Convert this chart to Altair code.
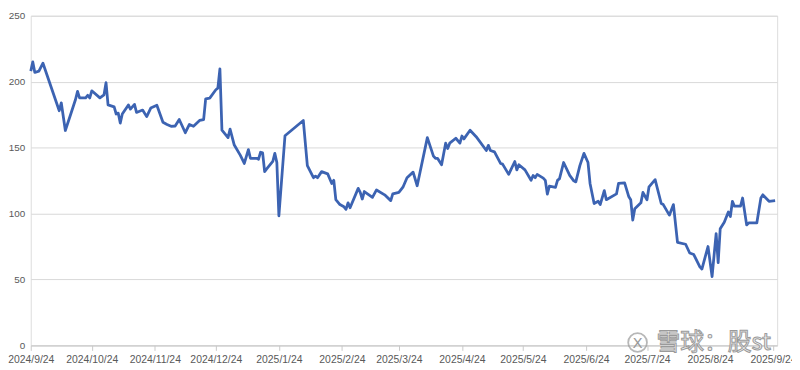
import altair as alt
import pandas as pd

dates = [
    "2024-09-24", "2024-09-25", "2024-09-26", "2024-09-28", "2024-09-30", "2024-10-08", "2024-10-09",
    "2024-10-11", "2024-10-14", "2024-10-16", "2024-10-17", "2024-10-18", "2024-10-21", "2024-10-22",
    "2024-10-23", "2024-10-24", "2024-10-28", "2024-10-30", "2024-10-31", "2024-11-01", "2024-11-04",
    "2024-11-05", "2024-11-06", "2024-11-07", "2024-11-08", "2024-11-11", "2024-11-12", "2024-11-14",
    "2024-11-15", "2024-11-18", "2024-11-20", "2024-11-22", "2024-11-25", "2024-11-28", "2024-11-30",
    "2024-12-02", "2024-12-04", "2024-12-06", "2024-12-09", "2024-12-11", "2024-12-13", "2024-12-16",
    "2024-12-18", "2024-12-19", "2024-12-21", "2024-12-24", "2024-12-25", "2024-12-26", "2024-12-27",
    "2024-12-30", "2024-12-31", "2025-01-02", "2025-01-05", "2025-01-07", "2025-01-09", "2025-01-10",
    "2025-01-13", "2025-01-14", "2025-01-15", "2025-01-16", "2025-01-17", "2025-01-18", "2025-01-21",
    "2025-01-22", "2025-01-23", "2025-01-24", "2025-01-27", "2025-02-05", "2025-02-07", "2025-02-10",
    "2025-02-11", "2025-02-12", "2025-02-14", "2025-02-17", "2025-02-19", "2025-02-20", "2025-02-21",
    "2025-02-23", "2025-02-25", "2025-02-26", "2025-02-27", "2025-02-28", "2025-03-04", "2025-03-05",
    "2025-03-06", "2025-03-07", "2025-03-11", "2025-03-13", "2025-03-17", "2025-03-20", "2025-03-21",
    "2025-03-24", "2025-03-26", "2025-03-28", "2025-03-31", "2025-04-02", "2025-04-07", "2025-04-10",
    "2025-04-11", "2025-04-12", "2025-04-14", "2025-04-16", "2025-04-17", "2025-04-18", "2025-04-21",
    "2025-04-23", "2025-04-24", "2025-04-25", "2025-04-28", "2025-05-01", "2025-05-06", "2025-05-07",
    "2025-05-08", "2025-05-10", "2025-05-13", "2025-05-14", "2025-05-17", "2025-05-20", "2025-05-21",
    "2025-05-22", "2025-05-25", "2025-05-28", "2025-05-29", "2025-05-30", "2025-05-31", "2025-06-03",
    "2025-06-04", "2025-06-05", "2025-06-06", "2025-06-09", "2025-06-10", "2025-06-11", "2025-06-13",
    "2025-06-16", "2025-06-18", "2025-06-19", "2025-06-21", "2025-06-23", "2025-06-25", "2025-06-26",
    "2025-06-28", "2025-06-30", "2025-07-01", "2025-07-03", "2025-07-04", "2025-07-09", "2025-07-10",
    "2025-07-13", "2025-07-15", "2025-07-16", "2025-07-17", "2025-07-18", "2025-07-21", "2025-07-22",
    "2025-07-24", "2025-07-25", "2025-07-28", "2025-07-31", "2025-08-01", "2025-08-04", "2025-08-06",
    "2025-08-08", "2025-08-12", "2025-08-14", "2025-08-16", "2025-08-19", "2025-08-20", "2025-08-23",
    "2025-08-25", "2025-08-27", "2025-08-28", "2025-08-29", "2025-08-31", "2025-09-02", "2025-09-03",
    "2025-09-04", "2025-09-05", "2025-09-08", "2025-09-09", "2025-09-11", "2025-09-12", "2025-09-16",
    "2025-09-18", "2025-09-19", "2025-09-22", "2025-09-25",
]

values = [
    208, 215, 207, 208, 214, 178, 184,
    163, 177, 186.5, 192.6, 187.7, 187.7, 189.7,
    187.7, 193.1, 187.7, 190, 199.3, 182.4, 180.9,
    175.5, 176.2, 168.6, 175.5, 182.4, 179.2, 182.8,
    176.7, 178.5, 173.5, 180, 182.1, 169.3, 167.6,
    166.2, 166.4, 171.3, 161.3, 167.6, 166.2, 170.6,
    171.3, 187, 187.5, 193.9, 195.1, 209.8, 163.2,
    157.6, 164, 152.2, 144.3, 138, 148.5, 141.9,
    141.9, 141.2, 146.5, 146, 131.8, 133.8, 139.5,
    145.6, 138.7, 98.3, 159, 170.6, 136.3, 127.2,
    128.4, 127.2, 131.8, 130.1, 122.8, 125.2, 110.5,
    106.8, 105.1, 103.2, 108.1, 104.4, 119.1, 116,
    111, 116.7, 112.3, 117.9, 114.2, 109.8, 114.9,
    116, 120, 127.2, 131.4, 121.1, 157.6, 143.6,
    141.9, 141.9, 137, 153.4, 149.3, 153.4, 157.1,
    153.4, 158.8, 156.6, 163.2, 158.3, 147.8, 151.7,
    147.8, 146.8, 138, 137.5, 129.7, 139.5, 133.1,
    137, 133.1, 125.2, 128.9, 127.2, 129.7, 126.9,
    125.2, 114.7, 120.8, 119.9, 125.2, 126.5, 138.7,
    128.9, 124.8, 124, 136.3, 145.6, 138.7, 122.8,
    107.6, 109.3, 106.8, 117.4, 110.5, 114.9, 122.8,
    123.3, 113, 110.5, 95.1, 103.7, 108.1, 116,
    110.5, 120.3, 125.7, 107.6, 106.8, 98.8, 106.8,
    78.2, 76.7, 70.1, 68.9, 59.6, 57.9, 75,
    52.2, 84.8, 62.7, 88.5, 93.4, 101.2, 97.8,
    109.3, 105.6, 105.6, 111.8, 91.4, 92.9, 92.9,
    111.8, 114.2, 109.3, 109.8,
]

tick_dates = [
    (2024, 9, 24), (2024, 10, 24), (2024, 11, 24), (2024, 12, 24), (2025, 1, 24), (2025, 2, 24),
    (2025, 3, 24), (2025, 4, 24), (2025, 5, 24), (2025, 6, 24), (2025, 7, 24), (2025, 8, 24),
    (2025, 9, 24),
]
y_ticks = [0, 50, 100, 150, 200, 250]
x_domain = [(2024, 9, 24), (2025, 9, 26)]
watermark = "雪球：股st"

df = pd.DataFrame({"date": dates, "value": values})


def dt(t):
    return alt.DateTime(year=t[0], month=t[1], date=t[2], utc=True)


LABEL_FONT = "Liberation Sans"
LABEL_COLOR = "#595959"

line = alt.Chart(df).mark_line(color="#3C63B2", strokeWidth=2.8, strokeJoin="round").encode(
    x=alt.X(
        "date:T",
        scale=alt.Scale(type="utc", domain=[dt(x_domain[0]), dt(x_domain[1])]),
        axis=alt.Axis(
            title=None,
            values=[dt(t) for t in tick_dates],
            format="%Y/%-m/%-d",
            grid=False,
            domainColor="#C8C8C8",
            tickColor="#C8C8C8",
            tickSize=5,
            labelPadding=4,
            labelFlush=False,
            labelOverlap=False,
            labelFont=LABEL_FONT,
            labelFontSize=10.5,
            labelColor=LABEL_COLOR,
        ),
    ),
    y=alt.Y(
        "value:Q",
        scale=alt.Scale(domain=[0, 250], nice=False),
        axis=alt.Axis(
            title=None,
            values=y_ticks,
            grid=True,
            gridColor="#D9D9D9",
            domain=False,
            ticks=False,
            tickSize=0,
            labelPadding=6,
            labelFont=LABEL_FONT,
            labelFontSize=10,
            labelColor=LABEL_COLOR,
        ),
    ),
)

one = pd.DataFrame({"t": [0]})

wm_text = alt.Chart(one).mark_text(
    font="Noto Sans CJK SC", fontSize=24, fill="#F2F2F2", stroke="#9A9A9A", strokeWidth=1,
    align="left", baseline="middle",
).encode(x=alt.value(632), y=alt.value(331), text=alt.value(watermark))

wm_circle = alt.Chart(one).mark_point(
    shape="circle", size=360, filled=False, color="#9A9A9A", strokeWidth=1.8
).encode(x=alt.value(613), y=alt.value(330))

wm_glyph = alt.Chart(one).mark_text(
    font="DejaVu Sans", fontSize=15, color="#9A9A9A", align="center", baseline="middle"
).encode(x=alt.value(613), y=alt.value(331), text=alt.value("X"))

chart = alt.layer(line, wm_circle, wm_glyph, wm_text).properties(
    width=754,
    height=333,
    padding={"left": 23, "top": 6, "right": 15, "bottom": 23},
    autosize=alt.AutoSizeParams(type="none"),
).configure_view(stroke=None).configure(background="white")

chart.save("out.html", embed_options={"renderer": "svg", "actions": False})
